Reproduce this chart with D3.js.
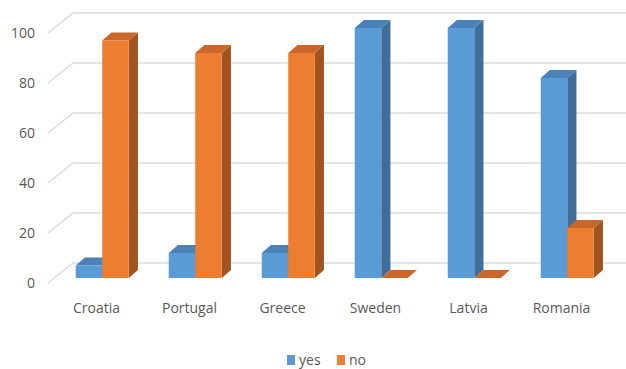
<!DOCTYPE html>
<html>
<head>
<meta charset="utf-8">
<script src="https://cdn.jsdelivr.net/npm/d3@7"></script>
<style>
  html, body { margin: 0; padding: 0; background: #fff; }
  svg { display: block; }
  text { font-family: "Open Sans", "DejaVu Sans", sans-serif; fill: #595959; }
</style>
</head>
<body>
<svg id="chart" width="626" height="369"></svg>
<script>
// Survey answers per country (percent)
const countries = ["Croatia", "Portugal", "Greece", "Sweden", "Latvia", "Romania"];
const seriesNames = ["yes", "no"];
const yesValues = [5, 10, 10, 100, 100, 80];
const noValues = [95, 90, 90, 0, 0, 20];
const yTicks = [0, 20, 40, 60, 80, 100];

const colors = {
  yes: { front: "#5B9BD5", side: "#3F6E99", top: "#4A82B8" },
  no:  { front: "#ED7D31", side: "#A3531F", top: "#C9682A" }
};

const W = 626, H = 369;
const svg = d3.select("#chart");

// 3D layout: front plane of the floor and the depth offset to the back wall
const frontLeft = 50, frontRight = 608;
const floorY = 283, topY = 33;
const DX = 23, DY = 20;            // full depth of the plot box
const barFront = 0.25, barBack = 0.65; // bar placement inside the depth

const x = d3.scaleBand().domain(countries).range([frontLeft, frontRight])
  .paddingInner(0.43).paddingOuter(0.215);
const xs = d3.scaleBand().domain(seriesNames).range([0, x.bandwidth()]);
const y = d3.scaleLinear().domain([0, 100]).range([floorY, topY]);

const proj = (px, v, d) => [px + d * DX, y(v) - d * DY];

// Gridlines: diagonal on the floor side, horizontal on the back wall
const grid = svg.append("g");
yTicks.forEach(t => {
  const a = proj(frontLeft - 2, t, 0), b = proj(frontLeft, t, 1);
  grid.append("path")
    .attr("d", `M${a[0]},${a[1]}L${b[0]},${b[1]}L${W},${b[1]}`)
    .attr("fill", "none").attr("stroke", "#dcdcdc").attr("stroke-width", 1.5);
});

// Bars
const rows = countries.map((c, i) => ({ country: c, yes: yesValues[i], no: noValues[i] }));
const bars = svg.append("g");
rows.forEach(r => {
  seriesNames.forEach(s => {
    const v = r[s];
    const x0 = x(r.country) + xs(s), x1 = x0 + xs.bandwidth();
    const col = colors[s];
    const fb = proj(x0, 0, barFront), fbr = proj(x1, 0, barFront);
    const ft = proj(x0, v, barFront), ftr = proj(x1, v, barFront);
    const bt = proj(x0, v, barBack), btr = proj(x1, v, barBack);
    const bbr = proj(x1, 0, barBack);
    const poly = pts => "M" + pts.map(p => p.join(",")).join("L") + "Z";
    if (v > 0) {
      bars.append("path").attr("d", poly([fbr, ftr, btr, bbr])).attr("fill", col.side);
    }
    bars.append("path").attr("d", poly([ft, ftr, btr, bt])).attr("fill", col.top);
    if (v > 0) {
      bars.append("path").attr("d", poly([fb, fbr, ftr, ft])).attr("fill", col.front);
    }
  });
});

// Value axis labels
const yAxis = svg.append("g").attr("transform", `translate(35,0)`)
  .call(d3.axisLeft(y).tickValues(yTicks).tickSize(0).tickPadding(0));
yAxis.select(".domain").remove();
yAxis.selectAll("text").style("font-size", "14px").attr("fill", "#595959")
  .style("font-family", '"Open Sans", sans-serif');

// Category labels
const xAxis = svg.append("g").attr("transform", `translate(0,303)`)
  .call(d3.axisBottom(x).tickSize(0).tickPadding(0));
xAxis.select(".domain").remove();
xAxis.selectAll("text").style("font-size", "14px").attr("fill", "#595959")
  .style("font-family", '"Open Sans", sans-serif');

// Legend
const legend = svg.append("g").attr("transform", "translate(287,360)");
const legendX = [0, 50];
seriesNames.forEach((s, i) => {
  const g = legend.append("g").attr("transform", `translate(${legendX[i]},0)`);
  g.append("rect").attr("x", 0).attr("y", -5).attr("width", 8).attr("height", 10)
    .attr("fill", colors[s].front);
  g.append("text").attr("x", 12).attr("y", 0).attr("dy", "0.35em")
    .style("font-size", "14px").text(s);
});
</script>
</body>
</html>
